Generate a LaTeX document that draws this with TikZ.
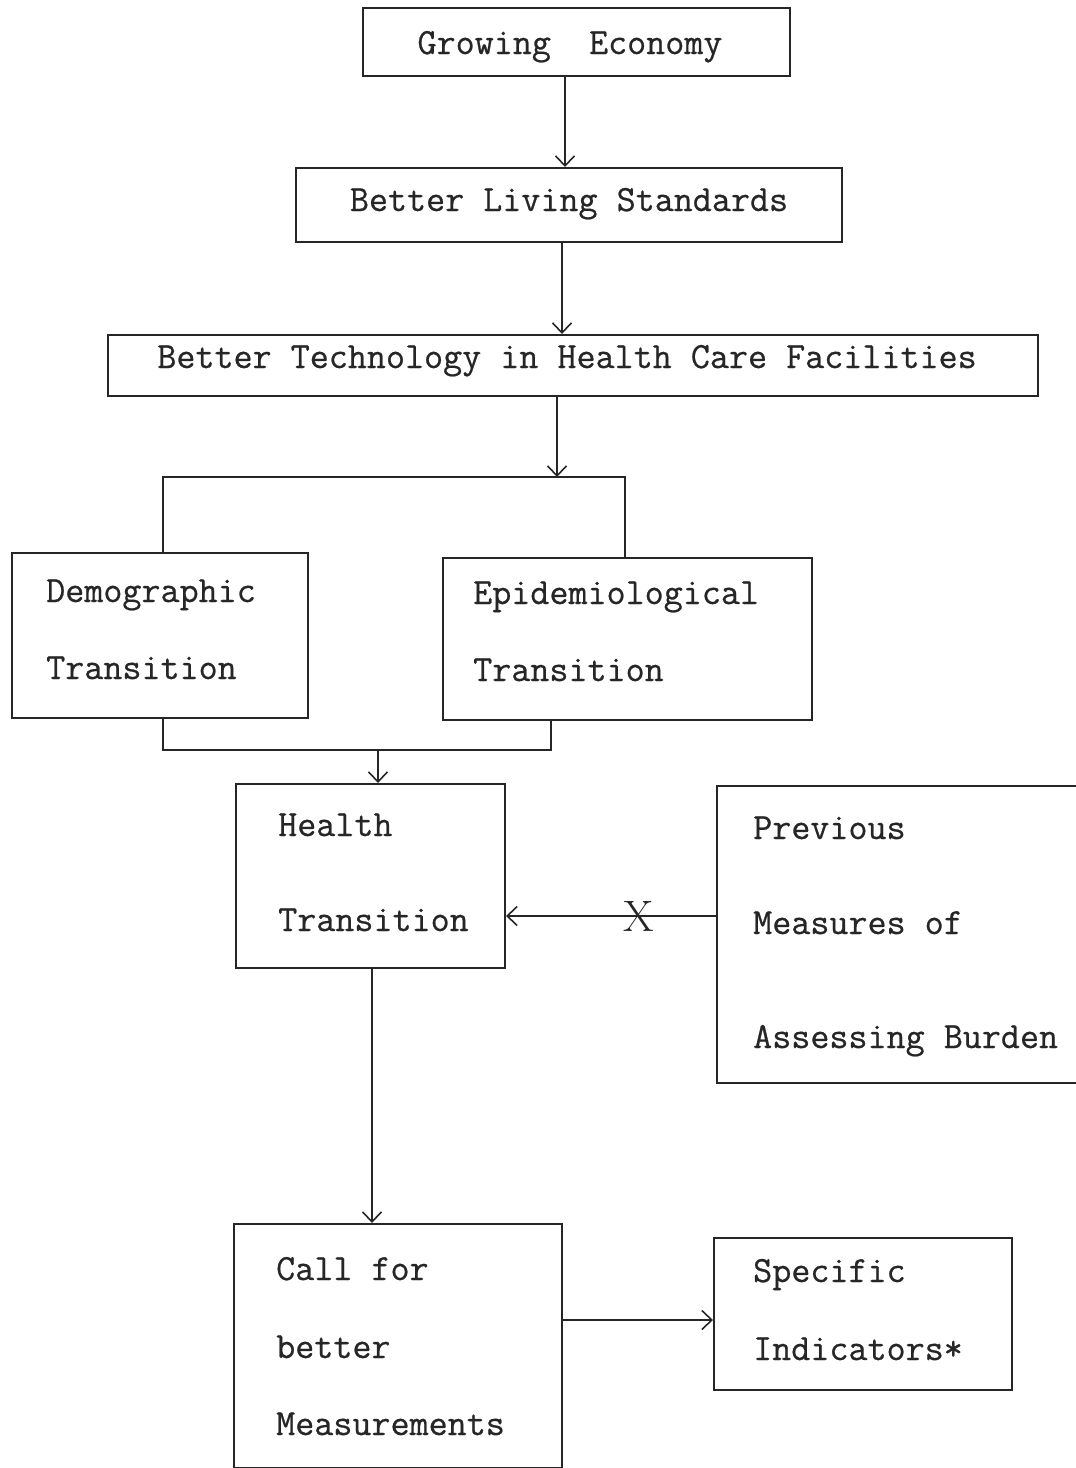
\documentclass[tikz,border=0pt]{standalone}
\usepackage{fontspec}
\newfontfamily\twfont[FakeBold=0.6]{Latin Modern Mono}
\usetikzlibrary{arrows.meta}
\begin{document}
\begin{tikzpicture}[x=1pt,y=-1pt,
  box/.style={draw=black!85,line width=2pt,rectangle,inner sep=0pt,minimum width=#1},
  lbl/.style={font=\twfont\fontsize{37}{37}\selectfont,text=black!85,inner sep=0pt,anchor=base west},
  clbl/.style={font=\twfont\fontsize{37}{37}\selectfont,text=black!85,inner sep=0pt,anchor=base},
  conn/.style={draw=black!85,line width=1.6pt},
  arr/.style={conn,-{Straight Barb[length=10pt,width=19pt,line width=1.6pt]}}]
\useasboundingbox (0,0) rectangle (1076,1468);
% boxes (centre, width, height)
\node[box=427,minimum height=68] (ge) at (576.5,42) {};
\node[box=546,minimum height=74] (bls) at (569,205) {};
\node[box=930,minimum height=61] (bt) at (573,365.5) {};
\node[box=296,minimum height=165] (dem) at (160,635.5) {};
\node[box=369,minimum height=162] (epi) at (627.5,639) {};
\node[box=269,minimum height=184] (ht) at (370.5,876) {};
\node[box=370,minimum height=297] (prev) at (902,934.5) {};
\node[box=328,minimum height=244] (call) at (398,1346) {};
\node[box=298,minimum height=152] (spec) at (863,1314) {};
% texts
\node[clbl] (tge) at (570,54) {Growing\ \ Economy};
\node[clbl] (tbls) at (569,211) {Better Living Standards};
\node[clbl] (tbt) at (567,368) {Better Technology in Health Care Facilities};
\node[lbl] (tdem1) at (46,602) {Demographic};
\node[lbl] (tdem2) at (46,679) {Transition};
\node[lbl] (tepi1) at (473,604) {Epidemiological};
\node[lbl] (tepi2) at (473,681) {Transition};
\node[lbl] (tht1) at (278,836) {Health};
\node[lbl] (tht2) at (278,931) {Transition};
\node[lbl] (tprev1) at (753,839) {Previous};
\node[lbl] (tprev2) at (753,934) {Measures of};
\node[lbl] (tprev3) at (753,1048) {Assessing Burden};
\node[lbl] (tcall1) at (276,1280) {Call for};
\node[lbl] (tcall2) at (276,1358) {better};
\node[lbl] (tcall3) at (276,1435) {Measurements};
\node[lbl] (tspec1) at (753,1282) {Specific};
\node[lbl] (tspec2) at (753,1360) {Indicators*};
% connector guide coordinates
\coordinate (x1) at (565,0);
\coordinate (x2) at (562,0);
\coordinate (x3) at (557,477);
\coordinate (bl) at (163,477);
\coordinate (br) at (625,477);
\coordinate (ll) at (163,750);
\coordinate (lr) at (551,750);
\coordinate (lm) at (378,750);
\coordinate (x4) at (372,0);
\coordinate (yx) at (0,916);
\coordinate (ys) at (0,1320);
% connectors
\draw[arr] (ge.south -| x1) -- (bls.north -| x1);
\draw[arr] (bls.south -| x2) -- (bt.north -| x2);
\draw[arr] (bt.south -| x3) -- (x3);
\draw[conn] (dem.north -| bl) -- (bl) -- (br) -- (epi.north -| br);
\draw[conn] (dem.south -| ll) -- (ll) -- (lr) -- (epi.south -| lr);
\draw[arr] (lm) -- (ht.north -| lm);
\draw[arr] (ht.south -| x4) -- (call.north -| x4);
\draw[arr,line width=2pt] (prev.west |- yx) -- node[pos=0.37,font=\fontsize{44}{44}\selectfont,text=black!85,inner sep=0pt] (xm) {X} (ht.east |- yx);
\draw[arr,line width=2pt] (call.east |- ys) -- (spec.west |- ys);
\end{tikzpicture}
\end{document}
